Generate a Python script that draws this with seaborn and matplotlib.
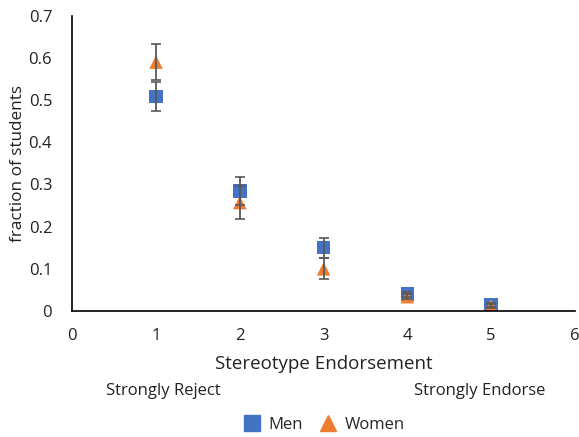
import numpy as np
import pandas as pd
import matplotlib
matplotlib.use("Agg")
import matplotlib.pyplot as plt
import seaborn as sns

# Survey responses by endorsement level
levels = [1, 2, 3, 4, 5]
men = [0.508, 0.284, 0.150, 0.040, 0.014]
men_err = [0.035, 0.033, 0.024, 0.006, 0.004]
women = [0.590, 0.257, 0.100, 0.034, 0.012]
women_err = [0.043, 0.040, 0.025, 0.006, 0.004]
groups = ["Men", "Women"]

df = pd.DataFrame({
    "level": levels * 2,
    "fraction": men + women,
    "err": men_err + women_err,
    "group": [groups[0]] * len(levels) + [groups[1]] * len(levels),
})

sns.set_theme(style="white")
plt.rcParams["font.family"] = ["Open Sans", "DejaVu Sans"]

fig = plt.figure(figsize=(5.79, 4.37), dpi=100)
ax = fig.add_axes([0.1249, 0.2883, 0.868, 0.6758])

palette = {"Men": "#4472C4", "Women": "#ED7D31"}
markers = {"Men": "s", "Women": "^"}

sns.scatterplot(data=df, x="level", y="fraction", hue="group", style="group",
                palette=palette, markers=markers, s=95, linewidth=0,
                ax=ax, legend=False, zorder=2)

for g in groups:
    sub = df[df["group"] == g]
    ax.errorbar(sub["level"], sub["fraction"], yerr=sub["err"], fmt="none",
                ecolor="#595959", elinewidth=1.3, capsize=3.5, capthick=1.2,
                zorder=3)

ax.set_xlim(0, 6)
ax.set_ylim(0, 0.7)
ax.set_xticks(range(0, 7))
ax.set_yticks(np.arange(0, 0.71, 0.1))
ax.set_yticklabels(["0"] + [f"{v:.1f}" for v in np.arange(0.1, 0.71, 0.1)])

for side in ["top", "right"]:
    ax.spines[side].set_visible(False)
for side in ["left", "bottom"]:
    ax.spines[side].set_color("#000000")
    ax.spines[side].set_linewidth(1.2)

ax.tick_params(axis="both", direction="inout", length=9, width=1.2,
               color="#000000", labelsize=12, labelcolor="#222222")
ax.tick_params(axis="x", pad=8)
ax.tick_params(axis="y", pad=10)

ax.set_xlabel("Stereotype Endorsement", fontsize=13.5, color="#222222", labelpad=8)
ax.set_ylabel("fraction of students", fontsize=12.3, color="#222222")
ax.yaxis.set_label_coords(-0.092, 0.5)

fig.text(163 / 579, 1 - 391 / 437, "Strongly Reject", ha="center", va="center",
         fontsize=12, color="#222222")
fig.text(480 / 579, 1 - 391 / 437, "Strongly Endorse", ha="center", va="center",
         fontsize=12, color="#222222")

handles = [
    plt.Line2D([], [], marker="s", color=palette["Men"], linestyle="none", markersize=11),
    plt.Line2D([], [], marker="^", color=palette["Women"], linestyle="none", markersize=11),
]
fig.legend(handles, groups, loc="center", bbox_to_anchor=(323 / 579, 1 - 425 / 437),
           ncol=2, frameon=False, fontsize=12, handletextpad=0.4,
           columnspacing=0.9, handlelength=1.2)

fig.savefig("out.png", dpi=100)
